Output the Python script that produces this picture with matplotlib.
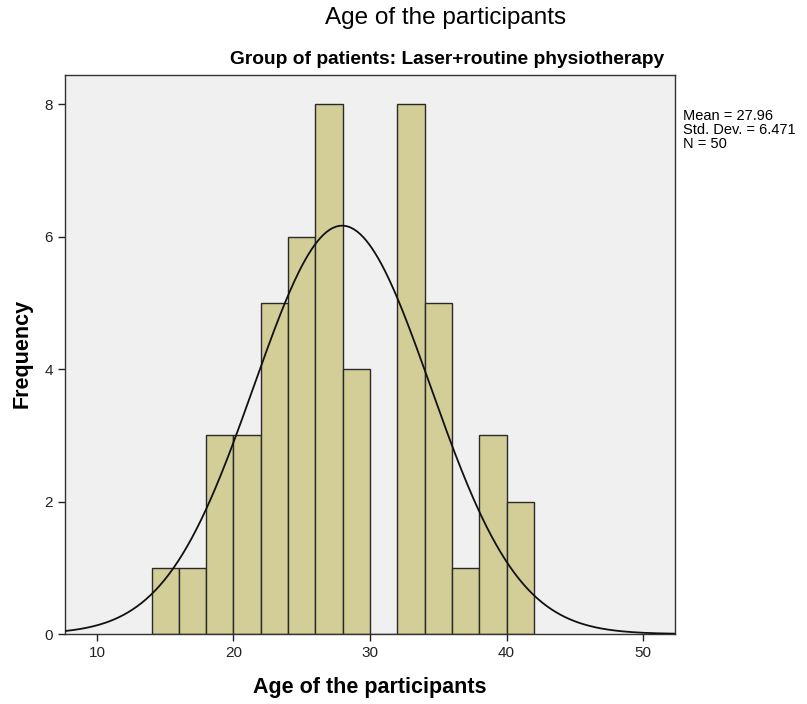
import numpy as np
import matplotlib
matplotlib.use("Agg")
import matplotlib.pyplot as plt

bin_edges = [14, 16, 18, 20, 22, 24, 26, 28, 30, 32, 34, 36, 38, 40, 42]
counts = [1, 1, 3, 3, 5, 6, 8, 4, 0, 8, 5, 1, 3, 2]
mean_val = 27.96
sd_val = 6.471
n_val = 50
x_ticks = [10, 20, 30, 40, 50]
y_ticks = [0, 2, 4, 6, 8]

font = 'Liberation Sans'

fig = plt.figure(figsize=(8.07, 7.04), dpi=100)
ax = fig.add_axes([65/807, 1-634/704, 610/807, 559/704])
ax.set_facecolor('#F0F0F0')

lefts = np.array(bin_edges[:-1])
widths = np.diff(bin_edges)
ax.bar(lefts, counts, width=widths, align='edge', color='#D3CE97',
       edgecolor='#2a2a2a', linewidth=1.0, zorder=2)

xs = np.linspace(7.66, 52.34, 400)
binw = widths[0]
ys = n_val * binw * np.exp(-0.5 * ((xs - mean_val) / sd_val) ** 2) / (sd_val * np.sqrt(2 * np.pi))
ax.plot(xs, ys, color='#111111', linewidth=1.3, zorder=3)

ax.set_xlim(7.66, 52.34)
ax.set_ylim(0, 8.44)
ax.set_xticks(x_ticks)
ax.set_yticks(y_ticks)
ax.tick_params(axis='both', direction='out', length=5, width=1, labelsize=11, colors='#222222')
for lbl in ax.get_xticklabels() + ax.get_yticklabels():
    lbl.set_fontfamily(font)
for s in ax.spines.values():
    s.set_color('#333333')
    s.set_linewidth(1.0)

fig.text(370/807, 1-688/704, 'Age of the participants', ha='center', va='center',
         fontsize=15.5, fontweight='bold', family=font)
fig.text(22/807, 1-353/704, 'Frequency', ha='center', va='center', rotation=90,
         fontsize=15.5, fontweight='bold', family=font)

fig.text(446/807, 1-18/704, 'Age of the participants', ha='center', va='center',
         fontsize=17.5, family=font)
fig.text(664/807, 1-60/704, 'Group of patients: Laser+routine physiotherapy', ha='right', va='center',
         fontsize=13.8, fontweight='bold', family=font)
fig.text(683/807, 1-109/704, f'Mean = {mean_val:.2f}\nStd. Dev. = {sd_val:.3f}\nN = {n_val}',
         ha='left', va='top', fontsize=10.5, family=font, linespacing=1.0)

fig.savefig('out.png', dpi=100)
